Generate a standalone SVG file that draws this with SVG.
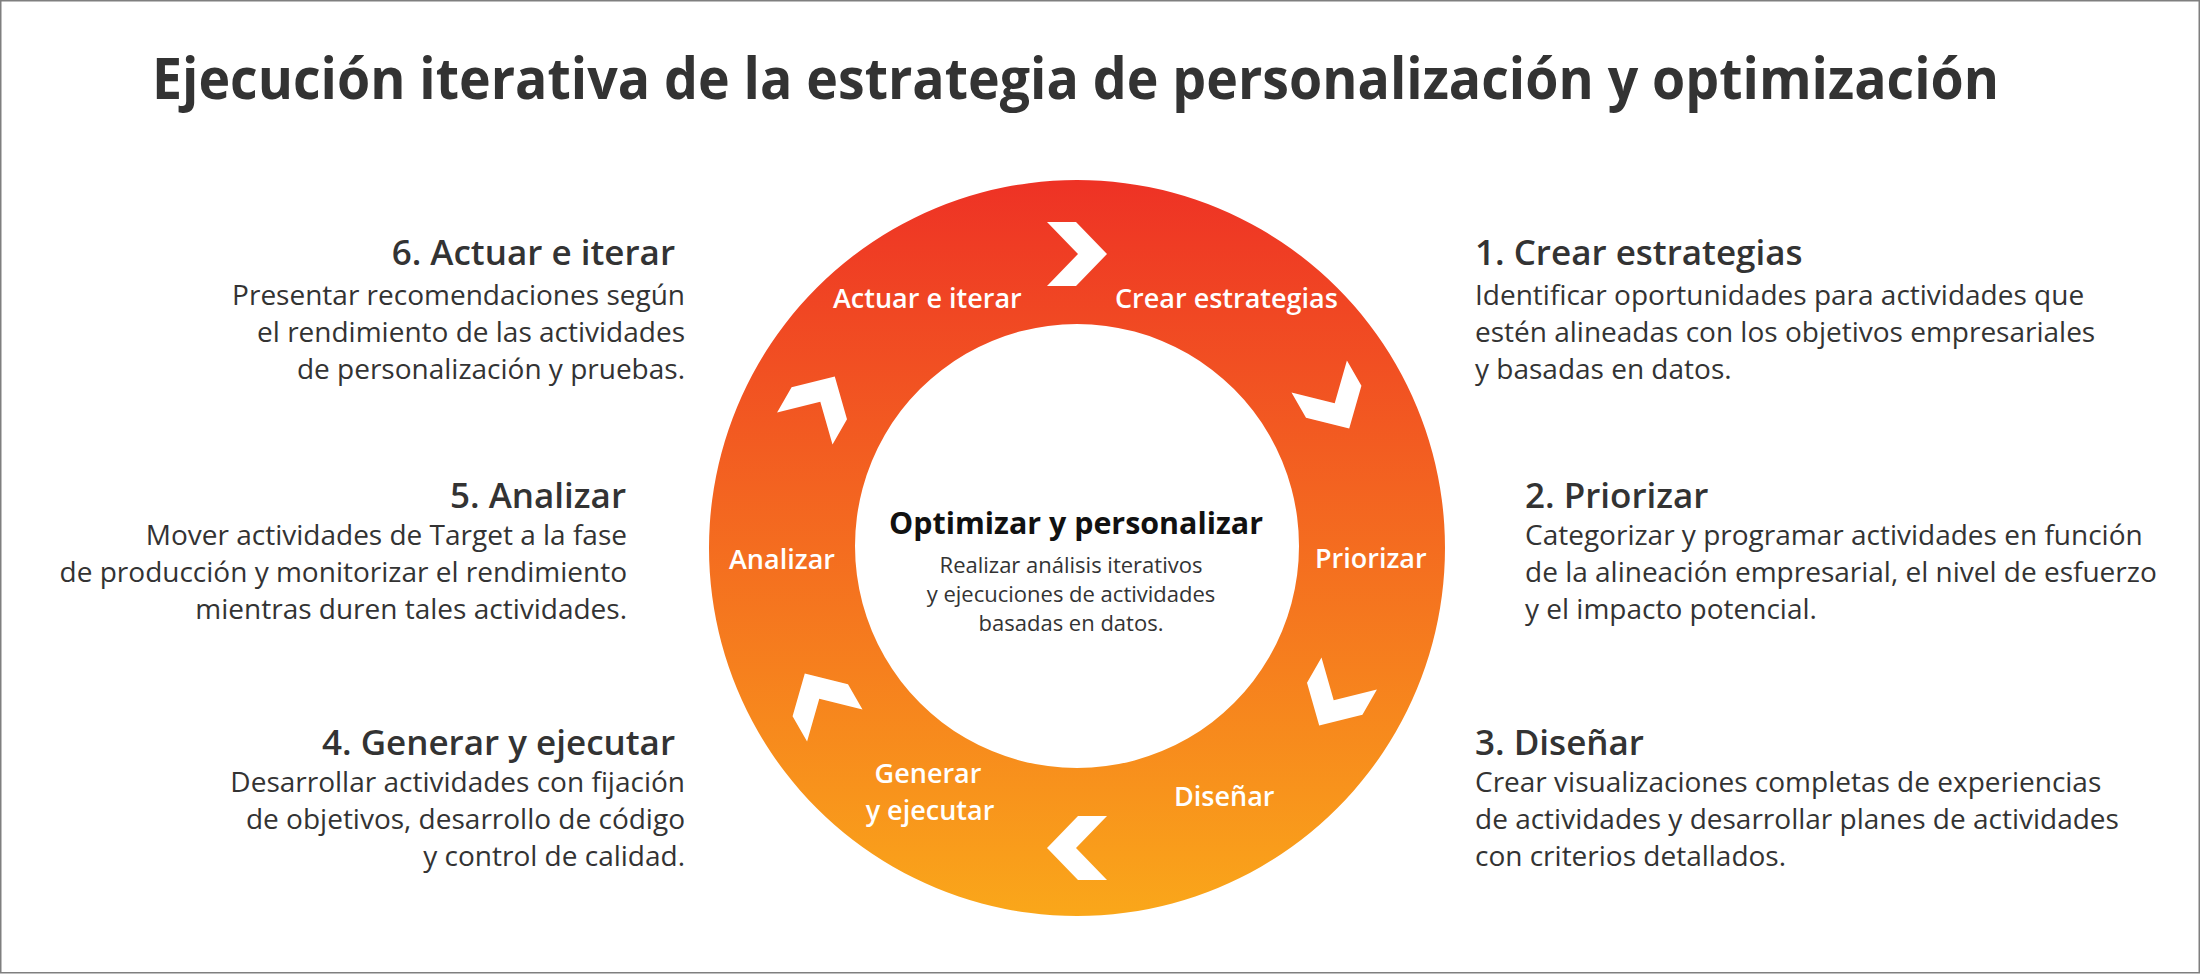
<svg xmlns="http://www.w3.org/2000/svg" xmlns:xlink="http://www.w3.org/1999/xlink" width="2200" height="974" viewBox="0 0 2200 974">
<style>
text{font-family:"Open Sans","Noto Sans","Liberation Sans",sans-serif}
.title{font-size:58px;font-weight:700;fill:#333333}
.head{font-size:35px;font-weight:600;fill:#333333}
.body{font-size:28px;font-weight:400;fill:#333333}
.ringlbl{font-size:27px;font-weight:600;fill:#ffffff}
.ctitle{font-size:31px;font-weight:700;fill:#111111}
.csub{font-size:22px;font-weight:400;fill:#333333}
.end{text-anchor:end}
.mid{text-anchor:middle}
.chev{fill:#ffffff}
</style>
<defs>
<linearGradient id="ringGrad" x1="0" y1="180" x2="0" y2="916" gradientUnits="userSpaceOnUse">
<stop offset="0" stop-color="#EE3225"/>
<stop offset="1" stop-color="#FAA71A"/>
</linearGradient>
<path id="chev" d="M-30,-32 H-1 L30,0 L-1,32 H-30 L1,0 Z"/>
</defs>
<rect x="0" y="0" width="2200" height="974" fill="#ffffff"/>
<rect x="0.75" y="0.75" width="2198.5" height="972" fill="none" stroke="#7f7f7f" stroke-width="1.5"/>
<text class="title" x="152" y="99" textLength="1847" lengthAdjust="spacingAndGlyphs">Ejecución iterativa de la estrategia de personalización y optimización</text>
<g id="ring">
<path d="M1077,180 A368,368 0 1,1 1076.99,180 Z M1077,324 A222,222 0 1,0 1077.01,324 Z" fill="url(#ringGrad)" fill-rule="evenodd"/>
<text class="ringlbl" x="833" y="308">Actuar e iterar</text>
<text class="ringlbl" x="1115" y="308">Crear estrategias</text>
<text class="ringlbl" x="729" y="569">Analizar</text>
<text class="ringlbl" x="1315" y="568">Priorizar</text>
<text class="ringlbl mid" x="928" y="783">Generar</text>
<text class="ringlbl mid" x="930" y="820">y ejecutar</text>
<text class="ringlbl" x="1174" y="806">Diseñar</text>
</g>
<g id="center">
<text class="ctitle mid" x="1076" y="534" textLength="374" lengthAdjust="spacingAndGlyphs">Optimizar y personalizar</text>
<text class="csub mid" x="1071" y="573">Realizar análisis iterativos</text>
<text class="csub mid" x="1071" y="602">y ejecuciones de actividades</text>
<text class="csub mid" x="1071" y="631">basadas en datos.</text>
</g>
<g id="connectors">
<use href="#chev" class="chev" transform="translate(1077,551) rotate(0) translate(0,-297)"/>
<use href="#chev" class="chev" transform="translate(1077,551) rotate(60) translate(0,-297)"/>
<use href="#chev" class="chev" transform="translate(1077,551) rotate(120) translate(0,-297)"/>
<use href="#chev" class="chev" transform="translate(1077,551) rotate(180) translate(0,-297)"/>
<use href="#chev" class="chev" transform="translate(1077,551) rotate(240) translate(0,-297)"/>
<use href="#chev" class="chev" transform="translate(1077,551) rotate(300) translate(0,-297)"/>
</g>
<g id="step1">
<text class="head" x="1475" y="265">1. Crear estrategias</text>
<text class="body" x="1475" y="305">Identificar oportunidades para actividades que</text>
<text class="body" x="1475" y="342">estén alineadas con los objetivos empresariales</text>
<text class="body" x="1475" y="379">y basadas en datos.</text>
</g>
<g id="step2">
<text class="head" x="1525" y="508">2. Priorizar</text>
<text class="body" x="1525" y="545">Categorizar y programar actividades en función</text>
<text class="body" x="1525" y="582">de la alineación empresarial, el nivel de esfuerzo</text>
<text class="body" x="1525" y="619">y el impacto potencial.</text>
</g>
<g id="step3">
<text class="head" x="1475" y="755">3. Diseñar</text>
<text class="body" x="1475" y="792">Crear visualizaciones completas de experiencias</text>
<text class="body" x="1475" y="829">de actividades y desarrollar planes de actividades</text>
<text class="body" x="1475" y="866">con criterios detallados.</text>
</g>
<g id="step4">
<text class="head end" x="675" y="755">4. Generar y ejecutar</text>
<text class="body end" x="685" y="792">Desarrollar actividades con fijación</text>
<text class="body end" x="685" y="829">de objetivos, desarrollo de código</text>
<text class="body end" x="685" y="866">y control de calidad.</text>
</g>
<g id="step5">
<text class="head end" x="626" y="508">5. Analizar</text>
<text class="body end" x="627" y="545">Mover actividades de Target a la fase</text>
<text class="body end" x="627" y="582">de producción y monitorizar el rendimiento</text>
<text class="body end" x="627" y="619">mientras duren tales actividades.</text>
</g>
<g id="step6">
<text class="head end" x="675" y="265">6. Actuar e iterar</text>
<text class="body end" x="685" y="305">Presentar recomendaciones según</text>
<text class="body end" x="685" y="342">el rendimiento de las actividades</text>
<text class="body end" x="685" y="379">de personalización y pruebas.</text>
</g>
</svg>
